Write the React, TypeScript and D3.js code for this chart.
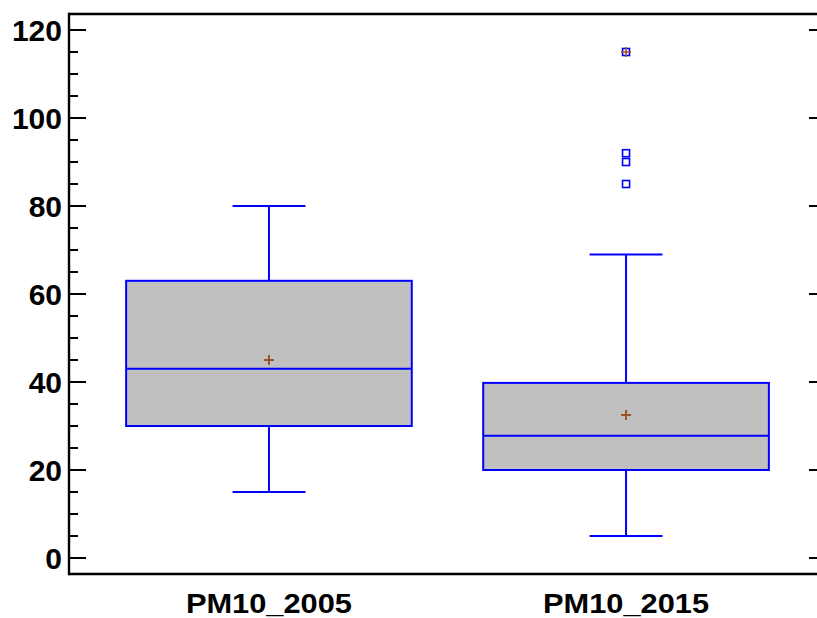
import React from "react";
import * as d3 from "d3";

// Box plot summaries per series
const categories = ["PM10_2005", "PM10_2015"];
const whiskerLow = [15, 5];
const q1 = [30, 20];
const medians = [43, 27.8];
const q3 = [63, 39.8];
const whiskerHigh = [80, 69];
const means = [45, 32.5];
// Outside points (second series); far-outside points carry an extra plus sign
const outlierSeries = [1, 1, 1, 1];
const outlierValues = [115, 92, 90, 85];
const outlierFar = [true, false, false, false];

const yTicks = [0, 20, 40, 60, 80, 100, 120];
const yMinorTicks = d3.range(0, 121, 5).filter((v) => v % 20 !== 0);

const W = 817;
const H = 618;
const left = 69;
const right = 826;
const top = 14;
const bottom = 574;

export default function App() {
  const x = d3.scaleLinear().domain([0.44, 2.56]).range([left, right]);
  const y = d3.scaleLinear().domain([-3.636, 123.636]).range([bottom, top]);
  const boxHalf = 0.4;
  const capHalf = 0.102;
  const blue = "#0000ff";
  const brown = "#a0522d";
  const font = "'Liberation Sans', Arial, sans-serif";

  return (
    <div style={{ position: "absolute", left: 0, top: 0, width: W, height: H, overflow: "hidden" }}>
      <svg width={W} height={H} viewBox={`0 0 ${W} ${H}`} style={{ display: "block", background: "#fff" }}>
        {categories.map((c, i) => {
          const cx = x(i + 1);
          const x0 = x(i + 1 - boxHalf);
          const x1 = x(i + 1 + boxHalf);
          return (
            <g key={c}>
              {/* whiskers */}
              <line x1={cx} x2={cx} y1={y(q3[i])} y2={y(whiskerHigh[i])} stroke={blue} strokeWidth={2} />
              <line x1={cx} x2={cx} y1={y(q1[i])} y2={y(whiskerLow[i])} stroke={blue} strokeWidth={2} />
              <line x1={x(i + 1 - capHalf)} x2={x(i + 1 + capHalf)} y1={y(whiskerHigh[i])} y2={y(whiskerHigh[i])} stroke={blue} strokeWidth={2} />
              <line x1={x(i + 1 - capHalf)} x2={x(i + 1 + capHalf)} y1={y(whiskerLow[i])} y2={y(whiskerLow[i])} stroke={blue} strokeWidth={2} />
              {/* box */}
              <rect x={x0} y={y(q3[i])} width={x1 - x0} height={y(q1[i]) - y(q3[i])} fill="#c0c0c0" stroke={blue} strokeWidth={2} />
              <line x1={x0} x2={x1} y1={y(medians[i])} y2={y(medians[i])} stroke={blue} strokeWidth={2} />
              {/* mean */}
              <line x1={cx - 5} x2={cx + 5} y1={y(means[i])} y2={y(means[i])} stroke={brown} strokeWidth={2} />
              <line x1={cx} x2={cx} y1={y(means[i]) - 5} y2={y(means[i]) + 5} stroke={brown} strokeWidth={2} />
            </g>
          );
        })}
        {outlierValues.map((v, k) => {
          const cx = x(outlierSeries[k] + 1);
          const cy = y(v);
          return (
            <g key={k}>
              <rect x={cx - 3.5} y={cy - 3.5} width={7} height={7} fill="none" stroke={blue} strokeWidth={1.6} />
              {outlierFar[k] && (
                <g stroke={brown} strokeWidth={1.6}>
                  <line x1={cx - 5} x2={cx + 5} y1={cy} y2={cy} />
                  <line x1={cx} x2={cx} y1={cy - 5} y2={cy + 5} />
                </g>
              )}
            </g>
          );
        })}
        {/* frame: top, left and bottom edges; the right edge falls past the drawing area */}
        <line x1={left} x2={W} y1={top} y2={top} stroke="#000" strokeWidth={2.4} />
        <line x1={left} x2={W} y1={bottom} y2={bottom} stroke="#000" strokeWidth={2.4} />
        <line x1={left} x2={left} y1={top - 1.2} y2={bottom + 1.2} stroke="#000" strokeWidth={2.4} />
        {yTicks.map((t) => (
          <g key={t}>
            <line x1={left} x2={left + 17} y1={y(t)} y2={y(t)} stroke="#000" strokeWidth={2} />
            <line x1={right - 17} x2={W} y1={y(t)} y2={y(t)} stroke="#000" strokeWidth={2} />
            <text x={62} y={y(t) + 11} textAnchor="end" fontFamily={font} fontWeight="bold" fontSize={30} fill="#000">
              {t}
            </text>
          </g>
        ))}
        {yMinorTicks.map((t) => (
          <line key={t} x1={left} x2={left + 9} y1={y(t)} y2={y(t)} stroke="#000" strokeWidth={2} />
        ))}
        {categories.map((c, i) => (
          <text
            key={c}
            x={x(i + 1)}
            y={613}
            textAnchor="middle"
            fontFamily={font}
            fontWeight="bold"
            fontSize={28}
            textLength={166}
            lengthAdjust="spacingAndGlyphs"
            fill="#000"
          >
            {c}
          </text>
        ))}
      </svg>
    </div>
  );
}
